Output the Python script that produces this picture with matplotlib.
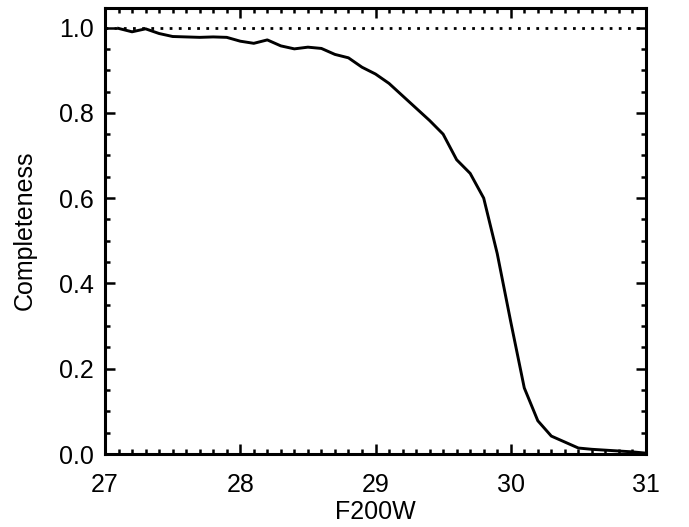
import numpy as np
import matplotlib
matplotlib.use("Agg")
import matplotlib.pyplot as plt
from matplotlib.ticker import MultipleLocator, FormatStrFormatter

plt.rcParams['font.family'] = ['Liberation Sans Narrow', 'Liberation Sans', 'DejaVu Sans']

# completeness curve
mag = [27.1, 27.2, 27.3, 27.4, 27.5, 27.6, 27.7, 27.8, 27.9, 28.0,
       28.1, 28.2, 28.3, 28.4, 28.5, 28.6, 28.7, 28.8, 28.9, 29.0,
       29.1, 29.2, 29.3, 29.4, 29.5, 29.6, 29.7, 29.8, 29.9, 30.0,
       30.1, 30.2, 30.3, 30.4, 30.5, 30.6, 30.7, 30.8, 30.9, 31.0]
completeness = [0.998, 0.990, 0.997, 0.986, 0.979, 0.978, 0.977, 0.978, 0.977, 0.968,
                0.963, 0.971, 0.957, 0.950, 0.954, 0.951, 0.937, 0.929, 0.907, 0.891,
                0.869, 0.840, 0.811, 0.782, 0.750, 0.690, 0.658, 0.600, 0.470, 0.310,
                0.155, 0.078, 0.042, 0.028, 0.014, 0.011, 0.009, 0.007, 0.005, 0.002]

fig = plt.figure(figsize=(6.89, 5.27), dpi=100)
ax = fig.add_axes([105 / 689, 73 / 527, 541 / 689, 446.5 / 527])

ax.axhline(1.0, color="black", linestyle=(0, (1, 2.3)), lw=2.0, dash_capstyle="butt")
ax.plot(mag, completeness, color="black", lw=2.1)

ax.set_xlim(27, 31)
ax.set_ylim(0, 1.047)
ax.xaxis.set_major_locator(MultipleLocator(1))
ax.xaxis.set_minor_locator(MultipleLocator(0.1))
ax.yaxis.set_major_locator(MultipleLocator(0.2))
ax.yaxis.set_minor_locator(MultipleLocator(0.05))
ax.yaxis.set_major_formatter(FormatStrFormatter("%.1f"))

ax.tick_params(which="both", direction="in", top=True, right=True, width=1.8)
ax.tick_params(which="major", length=7.5, labelsize=18)
ax.tick_params(axis="x", which="major", pad=14)
ax.tick_params(axis="y", which="major", pad=8)
ax.tick_params(which="minor", length=3.8)
for s in ax.spines.values():
    s.set_linewidth(2.2)

ax.set_xlabel("F200W", fontsize=18, labelpad=2)
ax.set_ylabel("Completeness", fontsize=18, labelpad=16)

fig.savefig("out.png", dpi=100)
